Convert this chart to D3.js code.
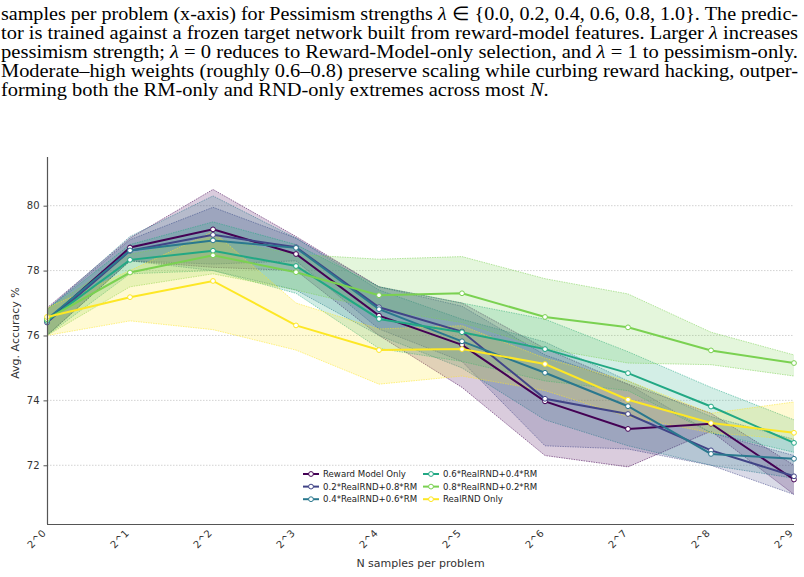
<!DOCTYPE html>
<html>
<head>
<meta charset="utf-8">
<script src="https://cdn.jsdelivr.net/npm/d3@7"></script>
<style>
  body { margin: 0; background: #fff; }
  svg { display: block; }
</style>
</head>
<body>
<div id="chart"></div>
<script>
// x positions are log2(N)
var xTicks = [0, 1, 2, 3, 4, 5, 6, 7, 8, 9];
var xTickLabels = ["2^0", "2^1", "2^2", "2^3", "2^4", "2^5", "2^6", "2^7", "2^8", "2^9"];
var yTicks = [72, 74, 76, 78, 80];

var seriesNames = ["Reward Model Only", "0.2*RealRND+0.8*RM", "0.4*RealRND+0.6*RM",
                   "0.6*RealRND+0.4*RM", "0.8*RealRND+0.2*RM", "RealRND Only"];

var rmOnly  = [76.45, 78.71, 79.27, 78.51, 76.61, 75.71, 73.97, 73.12, 73.28, 71.56];
var rnd02   = [76.40, 78.61, 79.10, 78.72, 76.87, 76.12, 74.05, 73.58, 72.46, 71.66];
var rnd04   = [76.50, 78.62, 78.93, 78.70, 76.81, 75.82, 74.85, 73.82, 72.35, 72.20];
var rnd06   = [76.45, 78.33, 78.61, 78.14, 76.51, 76.10, 75.58, 74.84, 73.81, 72.69];
var rnd08   = [76.50, 77.94, 78.47, 77.95, 77.24, 77.30, 76.57, 76.25, 75.54, 75.15];
var rndOnly = [76.57, 77.18, 77.68, 76.31, 75.55, 75.58, 75.12, 74.02, 73.30, 73.00];

// confidence bands (lower / upper)
var rmOnlyLo  = [76.00, 78.30, 78.10, 78.00, 76.00, 74.40, 72.30, 71.95, 73.05, 71.10];
var rmOnlyHi  = [76.85, 79.00, 80.50, 79.05, 77.50, 77.00, 75.60, 74.50, 73.60, 72.00];
var rnd02Lo   = [76.00, 78.30, 78.20, 78.30, 76.20, 75.20, 72.60, 72.50, 72.00, 71.10];
var rnd02Hi   = [76.80, 78.95, 79.95, 79.00, 77.50, 76.90, 75.40, 74.50, 73.00, 72.30];
var rnd04Lo   = [76.00, 78.30, 78.00, 77.40, 76.00, 75.00, 73.40, 72.60, 72.00, 71.60];
var rnd04Hi   = [76.80, 79.05, 80.30, 79.00, 77.40, 76.50, 75.80, 74.60, 73.50, 72.80];
var rnd06Lo   = [76.00, 77.90, 78.00, 77.30, 75.60, 75.20, 74.60, 74.30, 73.00, 72.40];
var rnd06Hi   = [76.80, 78.80, 79.50, 78.80, 77.50, 77.00, 76.50, 75.50, 74.40, 73.40];
var rnd08Lo   = [76.00, 77.50, 77.90, 77.40, 76.80, 76.40, 75.60, 75.15, 75.10, 74.75];
var rnd08Hi   = [76.80, 78.50, 79.00, 78.50, 78.35, 78.43, 77.75, 77.28, 76.10, 75.40];
var rndOnlyLo = [76.00, 76.45, 76.18, 75.55, 74.50, 74.75, 74.30, 73.50, 73.00, 72.80];
var rndOnlyHi = [76.85, 78.00, 79.20, 77.00, 76.20, 76.30, 75.30, 74.60, 73.60, 73.95];

var colors = ["#440154", "#414487", "#2a788e", "#22a884", "#7ad151", "#fde725"];

var means = [rmOnly, rnd02, rnd04, rnd06, rnd08, rndOnly];
var lows  = [rmOnlyLo, rnd02Lo, rnd04Lo, rnd06Lo, rnd08Lo, rndOnlyLo];
var highs = [rmOnlyHi, rnd02Hi, rnd04Hi, rnd06Hi, rnd08Hi, rndOnlyHi];

var captionLines = [
  [["samples per problem (x-axis) for Pessimism strengths ", 0], ["λ", 1], [" ∈ {0.0, 0.2, 0.4, 0.6, 0.8, 1.0}. The predic-", 0]],
  [["tor is trained against a frozen target network built from reward-model features. Larger ", 0], ["λ", 1], [" increases", 0]],
  [["pessimism strength; ", 0], ["λ", 1], [" = 0 reduces to Reward-Model-only selection, and ", 0], ["λ", 1], [" = 1 to pessimism-only.", 0]],
  [["Moderate–high weights (roughly 0.6–0.8) preserve scaling while curbing reward hacking, outper-", 0]],
  [["forming both the RM-only and RND-only extremes across most ", 0], ["N", 1], [".", 0]]
];

var W = 804, H = 577;
var svg = d3.select("#chart").append("svg")
    .attr("width", W)
    .attr("height", H);

// caption (justified by stretching to a fixed width)
var capY = [20, 39, 58, 77, 96];
var capNodes = [];
captionLines.forEach(function (parts, i) {
    var t = svg.append("text")
        .attr("x", 1)
        .attr("y", capY[i])
        .style("font-family", "'Liberation Serif', 'Times New Roman', serif")
        .style("font-size", "19px")
        .style("fill", "#000");
    parts.forEach(function (p) {
        t.append("tspan")
            .style("font-style", p[1] ? "italic" : "normal")
            .text(p[0]);
    });
    capNodes.push(t);
});
var fullW = 797;
var squeeze = fullW / capNodes[1].node().getComputedTextLength();
capNodes.forEach(function (t, i) {
    var len = i < 4 ? fullW : t.node().getComputedTextLength() * squeeze;
    t.attr("textLength", len).attr("lengthAdjust", "spacingAndGlyphs");
});

// scales
var x = d3.scaleLinear().domain([0, 9]).range([47, 794]);
var y = d3.scaleLinear().domain([70.19, 81.5]).range([524, 157]);

var g = svg.append("g");

// grid
g.selectAll(".grid")
    .data(yTicks)
    .enter()
    .append("line")
    .attr("x1", x(0))
    .attr("x2", x(9))
    .attr("y1", function (d) { return y(d); })
    .attr("y2", function (d) { return y(d); })
    .style("stroke", "#c8c8c8")
    .style("stroke-width", 0.8)
    .style("stroke-dasharray", "1.5,1.5");

// bands
var area = d3.area()
    .x(function (d, i) { return x(xTicks[i]); })
    .y0(function (d) { return y(d[0]); })
    .y1(function (d) { return y(d[1]); });
var lineGen = d3.line()
    .x(function (d, i) { return x(xTicks[i]); })
    .y(function (d) { return y(d); });

means.forEach(function (m, s) {
    var pairs = lows[s].map(function (lo, i) { return [lo, highs[s][i]]; });
    g.append("path")
        .attr("d", area(pairs))
        .style("fill", colors[s])
        .style("fill-opacity", 0.2)
        .style("stroke", "none");
    [lows[s], highs[s]].forEach(function (edge) {
        g.append("path")
            .attr("d", lineGen(edge))
            .style("fill", "none")
            .style("stroke", colors[s])
            .style("stroke-opacity", 0.6)
            .style("stroke-width", 0.9)
            .style("stroke-dasharray", "1.5,1");
    });
});

// mean lines
means.forEach(function (m, s) {
    g.append("path")
        .attr("d", lineGen(m))
        .style("fill", "none")
        .style("stroke", colors[s])
        .style("stroke-width", 2);
    g.selectAll(".pt" + s)
        .data(m)
        .enter()
        .append("circle")
        .attr("cx", function (d, i) { return x(xTicks[i]); })
        .attr("cy", function (d) { return y(d); })
        .attr("r", 2.4)
        .style("fill", "#fff")
        .style("stroke", colors[s])
        .style("stroke-width", 1);
});

// axes
var axisColor = "#555";
var yAxis = svg.append("g")
    .attr("transform", "translate(47,0)")
    .call(d3.axisLeft(y).tickValues(yTicks).tickSize(3.5).tickPadding(4).tickSizeOuter(0));
var xAxis = svg.append("g")
    .attr("transform", "translate(0,524)")
    .call(d3.axisBottom(x).tickValues(xTicks).tickSize(0).tickPadding(0).tickSizeOuter(0)
        .tickFormat(function (d, i) { return xTickLabels[i]; }));
yAxis.select(".domain").attr("d", "M0.5,157V524").style("stroke", axisColor).style("stroke-width", 1.2);
xAxis.select(".domain").attr("d", "M47,0.5H794").style("stroke", axisColor).style("stroke-width", 1.2);
[yAxis, xAxis].forEach(function (a) {
    a.selectAll(".tick line").style("stroke", axisColor);
    a.selectAll("text")
        .style("font-family", "'DejaVu Sans', sans-serif")
        .style("font-size", "10px")
        .style("fill", "#333");
});
xAxis.selectAll("text")
    .attr("text-anchor", "end")
    .attr("dy", null)
    .attr("y", 0)
    .attr("transform", "translate(-1,10) rotate(-45)");

// axis labels
svg.append("text")
    .attr("transform", "translate(19,333) rotate(-90)")
    .style("text-anchor", "middle")
    .style("font-family", "'DejaVu Sans', sans-serif")
    .style("font-size", "11px")
    .style("fill", "#333")
    .text("Avg. Accuracy %");
svg.append("text")
    .attr("x", (47 + 794) / 2)
    .attr("y", 567)
    .style("text-anchor", "middle")
    .style("font-family", "'DejaVu Sans', sans-serif")
    .style("font-size", "11px")
    .style("fill", "#333")
    .text("N samples per problem");

// legend
var legend = svg.append("g");
seriesNames.forEach(function (name, s) {
    var col = Math.floor(s / 3), row = s % 3;
    var lx = 303 + col * 120, ly = 474 + row * 12.6;
    legend.append("line")
        .attr("x1", lx).attr("x2", lx + 16)
        .attr("y1", ly).attr("y2", ly)
        .style("stroke", colors[s])
        .style("stroke-width", 2);
    legend.append("circle")
        .attr("cx", lx + 8).attr("cy", ly).attr("r", 2.4)
        .style("fill", "#fff")
        .style("stroke", colors[s])
        .style("stroke-width", 1);
    legend.append("text")
        .attr("x", lx + 20)
        .attr("y", ly + 3.2)
        .style("font-family", "'DejaVu Sans', sans-serif")
        .style("font-size", "8.6px")
        .style("fill", "#222")
        .text(name);
});
</script>
</body>
</html>
